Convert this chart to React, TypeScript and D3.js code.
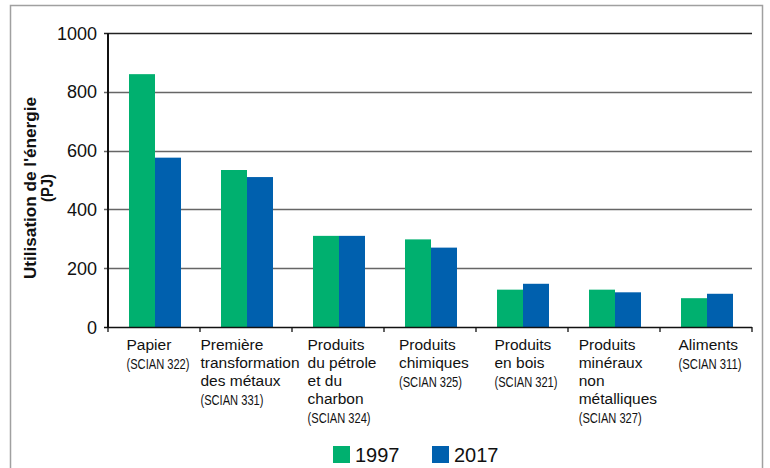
import React, { useRef, useEffect } from "react";
import * as d3 from "d3";

const categories = [
  ["Papier"],
  ["Première", "transformation", "des métaux"],
  ["Produits", "du pétrole", "et du", "charbon"],
  ["Produits", "chimiques"],
  ["Produits", "en bois"],
  ["Produits", "minéraux", "non", "métalliques"],
  ["Aliments"],
];
const codes = ["(SCIAN 322)", "(SCIAN 331)", "(SCIAN 324)", "(SCIAN 325)", "(SCIAN 321)", "(SCIAN 327)", "(SCIAN 311)"];
const series = ["1997", "2017"];
const values1997 = [860, 534, 310, 298, 127, 127, 98];
const values2017 = [576, 510, 310, 270, 147, 118, 113];
const yTicks = [0, 200, 400, 600, 800, 1000];
const colors = ["#00b06f", "#0060ae"];

const W = 770;
const H = 468;
const m = { left: 108, right: 752, top: 33, bottom: 327 };
const sans = "Liberation Sans, Arial, sans-serif";

const App: React.FC = () => {
  const svgRef = useRef<SVGSVGElement | null>(null);

  useEffect(() => {
    if (!svgRef.current) return;
    const svg = d3.select(svgRef.current);
    svg.selectAll("*").remove();

    const x = d3
      .scaleBand()
      .domain(categories.map((_, i) => String(i)))
      .range([m.left, m.right])
      .padding(0);
    const bw = 26;
    const x1 = d3.scaleBand().domain(series).range([0, bw * 2]);
    const y = d3.scaleLinear().domain([0, 1000]).range([m.bottom, m.top]);

    // frame
    svg
      .append("rect")
      .attr("x", 10.5)
      .attr("y", 5.5)
      .attr("width", 752)
      .attr("height", H + 20)
      .attr("fill", "none")
      .attr("stroke", "#a0a0a0")
      .attr("stroke-width", 1.5);

    // gridlines
    svg
      .selectAll(".grid")
      .data(yTicks.filter((d) => d > 0))
      .enter()
      .append("line")
      .attr("x1", m.left - 4)
      .attr("x2", m.right)
      .attr("y1", (d) => Math.round(y(d)) + 0.5)
      .attr("y2", (d) => Math.round(y(d)) + 0.5)
      .attr("stroke", (d) => (d === 1000 ? "#222" : "#666"))
      .attr("stroke-width", 1.3);

    // tick labels
    svg
      .selectAll(".ytl")
      .data(yTicks)
      .enter()
      .append("text")
      .attr("x", m.left - 11)
      .attr("y", (d) => y(d) + 6.5)
      .attr("text-anchor", "end")
      .attr("font-family", sans)
      .attr("font-size", 18)
      .attr("fill", "#111")
      .text((d) => d);

    // y title (condensed bold)
    const yt = svg
      .append("g")
      .attr("transform", "translate(36,188) rotate(-90)");
    const ytt = yt
      .append("text")
      .attr("text-anchor", "middle")
      .attr("font-family", sans)
      .attr("font-weight", "bold")
      .attr("font-size", 16)
      .attr("fill", "#111");
    ytt.append("tspan").attr("x", 0).attr("dy", 0).text("Utilisation de l'énergie")
      .attr("textLength", 182).attr("lengthAdjust", "spacingAndGlyphs");
    ytt.append("tspan").attr("x", 0).attr("dy", 17).text("(PJ)")
      .attr("textLength", 28).attr("lengthAdjust", "spacingAndGlyphs");

    // bars
    const data = categories.map((_, i) => ({ i, vals: [values1997[i], values2017[i]] }));
    const g = svg
      .selectAll(".cat")
      .data(data)
      .enter()
      .append("g")
      .attr("transform", (d) => `translate(${x(String(d.i))! + 21},0)`);
    g.selectAll("rect")
      .data((d) => d.vals.map((v, k) => ({ v, s: series[k], k })))
      .enter()
      .append("rect")
      .attr("x", (d) => x1(d.s)!)
      .attr("y", (d) => y(d.v))
      .attr("width", x1.bandwidth())
      .attr("height", (d) => y(0) - y(d.v))
      .attr("fill", (d) => colors[d.k]);

    // axes
    svg
      .append("line")
      .attr("x1", m.left)
      .attr("x2", m.left)
      .attr("y1", m.top)
      .attr("y2", m.bottom + 1)
      .attr("stroke", "#111")
      .attr("stroke-width", 2);
    svg
      .append("line")
      .attr("x1", m.left - 4)
      .attr("x2", m.right)
      .attr("y1", m.bottom + 0.5)
      .attr("y2", m.bottom + 0.5)
      .attr("stroke", "#111")
      .attr("stroke-width", 1.5);
    svg
      .selectAll(".xt")
      .data(d3.range(categories.length + 1))
      .enter()
      .append("line")
      .attr("x1", (d) => m.left + d * x.bandwidth())
      .attr("x2", (d) => m.left + d * x.bandwidth())
      .attr("y1", m.bottom)
      .attr("y2", m.bottom + 5)
      .attr("stroke", "#111")
      .attr("stroke-width", 1.3);

    // category labels
    categories.forEach((lines, i) => {
      const lg = svg.append("g");
      const t = lg.append("text").attr("fill", "#111");
      lines.forEach((ln, k) => {
        t.append("tspan")
          .attr("x", 0)
          .attr("y", 350 + k * 18)
          .attr("font-family", sans)
          .attr("font-size", 15.5)
          .text(ln);
      });
      t.append("tspan")
        .attr("x", 0)
        .attr("y", 350 + lines.length * 18 + 1)
        .attr("font-family", sans)
        .attr("font-size", 14)
        .attr("textLength", 63)
        .attr("lengthAdjust", "spacingAndGlyphs")
        .text(codes[i]);
      const bb = (t.node() as SVGTextElement).getBBox();
      const cx = x(String(i))! + x.bandwidth() / 2 + 4;
      lg.attr("transform", `translate(${cx - bb.width / 2},0)`);
    });

    // legend
    const leg = svg
      .selectAll(".leg")
      .data(series)
      .enter()
      .append("g")
      .attr("transform", (_, k) => `translate(${333 + k * 99},446)`);
    leg.append("rect").attr("width", 17).attr("height", 17).attr("fill", (_, k) => colors[k]);
    leg
      .append("text")
      .attr("x", 22)
      .attr("y", 15.5)
      .attr("font-family", sans)
      .attr("font-size", 20)
      .attr("fill", "#111")
      .text((d) => d);
  }, []);

  return (
    <svg
      ref={svgRef}
      width={W}
      height={H}
      style={{ position: "absolute", left: 0, top: 0, background: "#fff" }}
    ></svg>
  );
};

export default App;
